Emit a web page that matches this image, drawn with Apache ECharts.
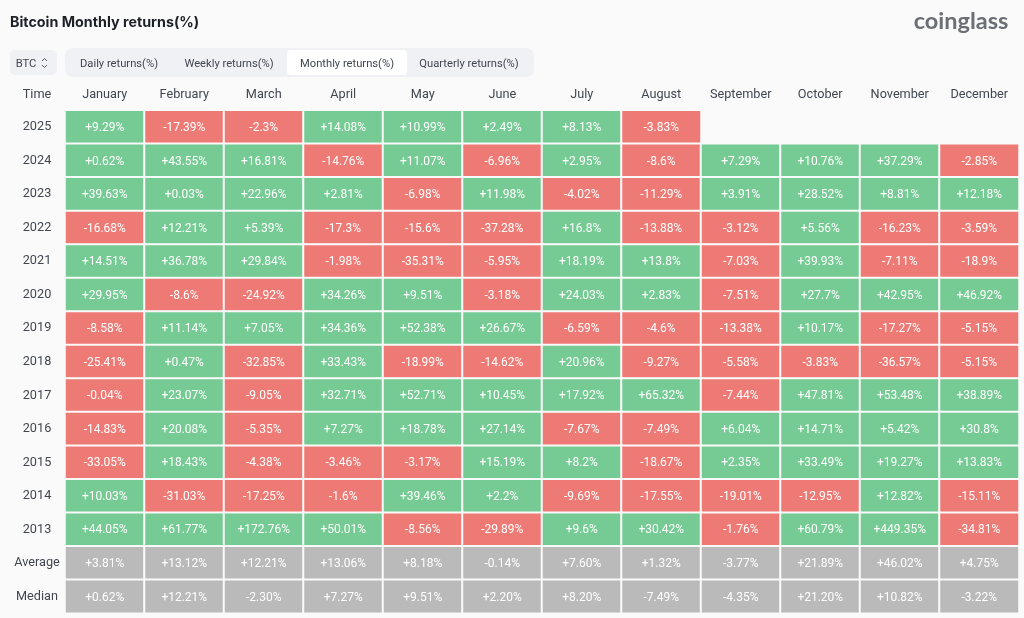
<!DOCTYPE html>
<html>
<head>
<meta charset="utf-8">
<title>Bitcoin Monthly returns(%)</title>
<script src="https://cdn.jsdelivr.net/npm/echarts@6/dist/echarts.min.js"></script>
<style>
html, body { margin: 0; padding: 0; background: #fafafa; }
#main { width: 1024px; height: 618px; }
</style>
</head>
<body>
<div id="main"></div>
<script>
var months = ['January', 'February', 'March', 'April', 'May', 'June', 'July', 'August', 'September', 'October', 'November', 'December'];
var rowNames = ['2025', '2024', '2023', '2022', '2021', '2020', '2019', '2018', '2017', '2016', '2015', '2014', '2013', 'Average', 'Median'];
var tabs = ['Daily returns(%)', 'Weekly returns(%)', 'Monthly returns(%)', 'Quarterly returns(%)'];

var y2025 = [9.29, -17.39, -2.3, 14.08, 10.99, 2.49, 8.13, -3.83, null, null, null, null];
var y2024 = [0.62, 43.55, 16.81, -14.76, 11.07, -6.96, 2.95, -8.6, 7.29, 10.76, 37.29, -2.85];
var y2023 = [39.63, 0.03, 22.96, 2.81, -6.98, 11.98, -4.02, -11.29, 3.91, 28.52, 8.81, 12.18];
var y2022 = [-16.68, 12.21, 5.39, -17.3, -15.6, -37.28, 16.8, -13.88, -3.12, 5.56, -16.23, -3.59];
var y2021 = [14.51, 36.78, 29.84, -1.98, -35.31, -5.95, 18.19, 13.8, -7.03, 39.93, -7.11, -18.9];
var y2020 = [29.95, -8.6, -24.92, 34.26, 9.51, -3.18, 24.03, 2.83, -7.51, 27.7, 42.95, 46.92];
var y2019 = [-8.58, 11.14, 7.05, 34.36, 52.38, 26.67, -6.59, -4.6, -13.38, 10.17, -17.27, -5.15];
var y2018 = [-25.41, 0.47, -32.85, 33.43, -18.99, -14.62, 20.96, -9.27, -5.58, -3.83, -36.57, -5.15];
var y2017 = [-0.04, 23.07, -9.05, 32.71, 52.71, 10.45, 17.92, 65.32, -7.44, 47.81, 53.48, 38.89];
var y2016 = [-14.83, 20.08, -5.35, 7.27, 18.78, 27.14, -7.67, -7.49, 6.04, 14.71, 5.42, 30.8];
var y2015 = [-33.05, 18.43, -4.38, -3.46, -3.17, 15.19, 8.2, -18.67, 2.35, 33.49, 19.27, 13.83];
var y2014 = [10.03, -31.03, -17.25, -1.6, 39.46, 2.2, -9.69, -17.55, -19.01, -12.95, 12.82, -15.11];
var y2013 = [44.05, 61.77, 172.76, 50.01, -8.56, -29.89, 9.6, 30.42, -1.76, 60.79, 449.35, -34.81];
var average = [3.81, 13.12, 12.21, 13.06, 8.18, -0.14, 7.6, 1.32, -3.77, 21.89, 46.02, 4.75];
var median = [0.62, 12.21, -2.3, 7.27, 9.51, 2.2, 8.2, -7.49, -4.35, 21.2, 10.82, -3.22];

var rows = [y2025, y2024, y2023, y2022, y2021, y2020, y2019, y2018, y2017, y2016, y2015, y2014, y2013, average, median];

var GREEN = '#75cb93', RED = '#ee7a76', GREY = '#bababa';
var BG = '#fafafa', TEXT = '#41464f', FONT = 'Roboto';

var cells = [];
rows.forEach(function (row, r) {
  var isSummary = r >= 13;
  row.forEach(function (v, c) {
    if (v === null) return;
    var txt = isSummary ? v.toFixed(2) : String(v);
    cells.push({
      value: [c, r, v],
      label: { formatter: (v >= 0 ? '+' : '') + txt + '%' },
      itemStyle: { color: isSummary ? GREY : (v >= 0 ? GREEN : RED) }
    });
  });
});

// header controls, they are not part of the data
var tabRects = [
  { type: 'rect', shape: { x: 65, y: 48, width: 469, height: 29, r: 8 }, style: { fill: '#f0f1f5' } },
  { type: 'rect', shape: { x: 287, y: 50, width: 120, height: 25, r: 4 }, style: { fill: '#ffffff' } },
  { type: 'rect', shape: { x: 10, y: 50, width: 47, height: 25, r: 5 }, style: { fill: '#f0f1f5' } },
  { type: 'polyline', shape: { points: [[42, 61], [44.5, 58.5], [47, 61]] }, style: { stroke: '#565b64', fill: null, lineWidth: 1 } },
  { type: 'polyline', shape: { points: [[42, 65], [44.5, 67.5], [47, 65]] }, style: { stroke: '#565b64', fill: null, lineWidth: 1 } }
];
function label(text, x, y, size, color, extra) {
  return {
    type: 'text', x: x, y: y,
    style: Object.assign({ text: text, fontFamily: FONT, fontSize: size, fill: color, align: 'center', verticalAlign: 'middle' }, extra || {})
  };
}
var tabCenters = [119, 229, 347, 469];
var tabTexts = tabs.map(function (t, i) { return label(t, tabCenters[i], 64, 11.2, TEXT); });

var option = {
  backgroundColor: BG,
  animation: false,
  title: {
    text: 'Bitcoin Monthly returns(%)',
    left: 10, top: 15.5, padding: 0,
    textStyle: { fontFamily: 'Inter', fontSize: 14.3, fontWeight: 700, color: '#1d2027' }
  },
  grid: { left: 65, right: 5, top: 110.3, bottom: 4.7 },
  xAxis: {
    type: 'category', position: 'top', data: months,
    axisLine: { show: false }, axisTick: { show: false }, splitLine: { show: false },
    axisLabel: { interval: 0, margin: 9, fontFamily: FONT, fontSize: 12.7, color: TEXT }
  },
  yAxis: {
    type: 'category', inverse: true, data: rowNames,
    axisLine: { show: false }, axisTick: { show: false }, splitLine: { show: false },
    axisLabel: { interval: 0, margin: 28, align: 'center', padding: [2, 0, 0, 0], fontFamily: FONT, fontSize: 12.7, color: TEXT }
  },
  series: [{
    type: 'heatmap',
    data: cells,
    itemStyle: { borderColor: BG, borderWidth: 2 },
    emphasis: { disabled: true },
    label: { show: true, color: '#ffffff', fontFamily: FONT, fontSize: 12, offset: [0, 1] }
  }],
  graphic: tabRects.concat(tabTexts, [
    label('BTC', 26, 64, 11.2, TEXT),
    label('Time', 37, 95, 12.7, TEXT),
    label('coinglass', 961, 21, 23.5, '#6b6e74', { fontFamily: 'Lato', fontWeight: 700 })
  ])
};

var chart = echarts.init(document.getElementById('main'));
chart.setOption(option);
</script>
</body>
</html>
